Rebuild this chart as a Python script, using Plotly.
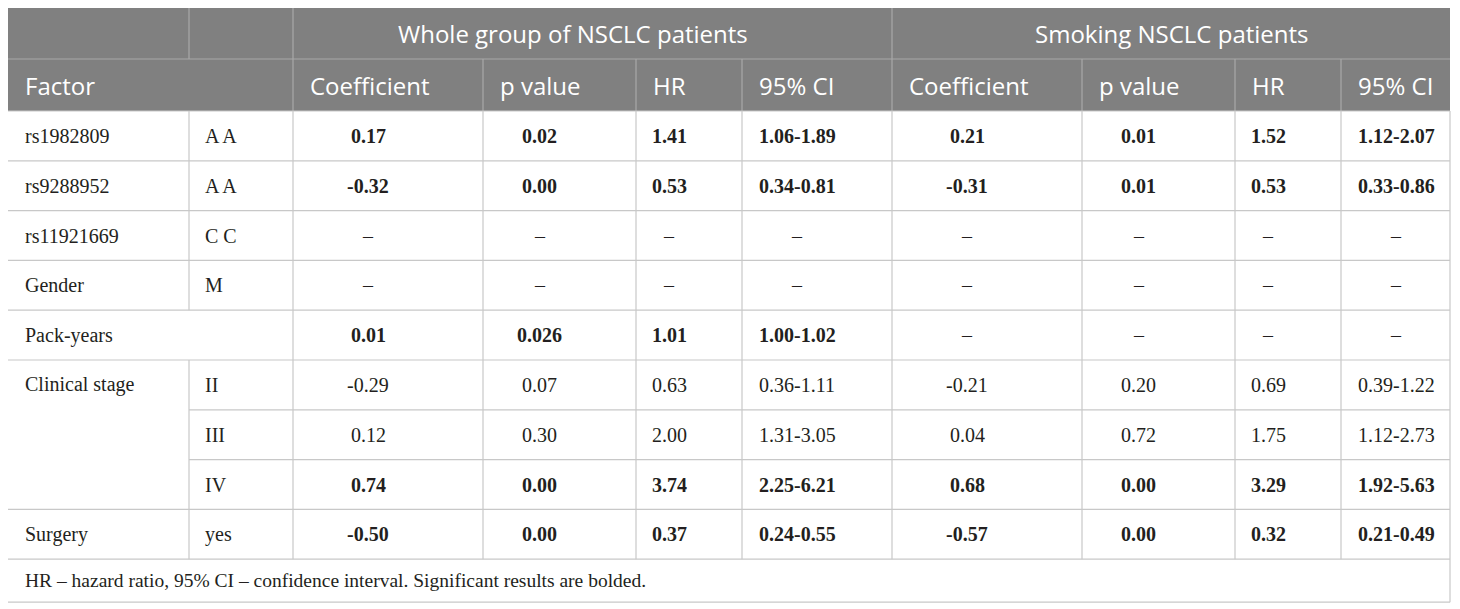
import plotly.graph_objects as go

# ---------------- data ----------------
group_headers = ["Whole group of NSCLC patients", "Smoking NSCLC patients"]
col_headers = ["Coefficient", "p value", "HR", "95% CI",
               "Coefficient", "p value", "HR", "95% CI"]
factors = ["rs1982809", "rs9288952", "rs11921669", "Gender", "Pack-years",
           "Clinical stage", "", "", "Surgery"]
levels = ["A A", "A A", "C C", "M", "", "II", "III", "IV", "yes"]

whole_coef = ["0.17", "-0.32", "–", "–", "0.01", "-0.29", "0.12", "0.74", "-0.50"]
whole_p = ["0.02", "0.00", "–", "–", "0.026", "0.07", "0.30", "0.00", "0.00"]
whole_hr = ["1.41", "0.53", "–", "–", "1.01", "0.63", "2.00", "3.74", "0.37"]
whole_ci = ["1.06-1.89", "0.34-0.81", "–", "–", "1.00-1.02", "0.36-1.11",
            "1.31-3.05", "2.25-6.21", "0.24-0.55"]
whole_bold = [True, True, False, False, True, False, False, True, True]

smoke_coef = ["0.21", "-0.31", "–", "–", "–", "-0.21", "0.04", "0.68", "-0.57"]
smoke_p = ["0.01", "0.01", "–", "–", "–", "0.20", "0.72", "0.00", "0.00"]
smoke_hr = ["1.52", "0.53", "–", "–", "–", "0.69", "1.75", "3.29", "0.32"]
smoke_ci = ["1.12-2.07", "0.33-0.86", "–", "–", "–", "0.39-1.22",
            "1.12-2.73", "1.92-5.63", "0.21-0.49"]
smoke_bold = [True, True, False, False, False, False, False, True, True]

footnote = "HR – hazard ratio, 95% CI – confidence interval. Significant results are bolded."

# ---------------- layout constants ----------------
W, H = 1460, 609
PAGE_OFF = 8            # browser body margin; coordinates below are window pixels
X0, Y0 = 7, 7
col_widths = [182, 104, 190, 153, 106, 150, 190, 153, 106, 150]
RIGHT = 1450            # visible right edge of the table (cropped)
HDR_H = [52, 52]
ROW_H = 49.8
FOOT_H = 43
PAD_R = 40              # centred text sits in cell minus right padding

HDR_BG = "#808080"
HDR_LINE = "#a8a8a8"
BODY_LINE = "#c8c8c8"
TXT = "#231f20"
SANS = "Open Sans"
SERIF = "Liberation Serif"

xs = [X0]
for w in col_widths:
    xs.append(xs[-1] + w)
yh1 = Y0 + HDR_H[0]
yh2 = yh1 + HDR_H[1]
n = len(factors)
rows_y = [yh2 + i * ROW_H for i in range(n + 1)]
yfoot = rows_y[-1] + FOOT_H

shapes = []
annots = []


def line(x0, y0, x1, y1, color, width=1.2):
    shapes.append(dict(type="line", x0=x0, y0=y0, x1=x1, y1=y1, xref="x", yref="y",
                       line=dict(color=color, width=width), layer="above"))


def text(x, y, s, font, size, color, anchor="center", bold=False):
    annots.append(dict(x=x, y=y, xref="x", yref="y", text=f"<b>{s}</b>" if bold else s,
                       showarrow=False, xanchor=anchor, yanchor="middle",
                       font=dict(family=font, size=size, color=color)))


# header background
shapes.append(dict(type="rect", x0=X0, y0=Y0, x1=RIGHT, y1=yh2, xref="x", yref="y",
                   fillcolor=HDR_BG, line=dict(width=0), layer="below"))
# header grid
line(X0, yh1, RIGHT, yh1, HDR_LINE)
line(xs[1], Y0, xs[1], yh1, HDR_LINE)
line(xs[2], Y0, xs[2], yh2, HDR_LINE)
line(xs[6], Y0, xs[6], yh2, HDR_LINE)
for k in [3, 4, 5, 7, 8, 9]:
    line(xs[k], yh1, xs[k], yh2, HDR_LINE)

# header texts
groups = [(xs[2], xs[6]), (xs[6], xs[10])]
for (a, b), g in zip(groups, group_headers):
    text((a + b - PAD_R) / 2, (Y0 + yh1) / 2, g, SANS, 24, "white")
text(xs[0] + 16, (yh1 + yh2) / 2, "Factor", SANS, 24, "white", anchor="left")
for k, h in enumerate(col_headers):
    text(xs[k + 2] + 15, (yh1 + yh2) / 2, h, SANS, 24, "white", anchor="left")

# body grid: horizontal lines
for i in range(n + 1):
    y = rows_y[i]
    if i in (6, 7):          # inside the merged "Clinical stage" cell
        line(xs[1], y, RIGHT, y, BODY_LINE)
    else:
        line(X0, y, RIGHT, y, BODY_LINE)
line(X0, yfoot, RIGHT, yfoot, BODY_LINE)

# body grid: vertical lines
line(X0, yh2, X0, yfoot, BODY_LINE)
line(RIGHT, yh2, RIGHT, yfoot, BODY_LINE)
line(xs[1], rows_y[0], xs[1], rows_y[4], BODY_LINE)
line(xs[1], rows_y[5], xs[1], rows_y[n], BODY_LINE)
for k in range(2, 10):
    line(xs[k], rows_y[0], xs[k], rows_y[n], BODY_LINE)

# body texts
value_cols = [(whole_coef, whole_bold), (whole_p, whole_bold), (whole_hr, whole_bold),
              (whole_ci, whole_bold), (smoke_coef, smoke_bold), (smoke_p, smoke_bold),
              (smoke_hr, smoke_bold), (smoke_ci, smoke_bold)]
for i in range(n):
    yc = (rows_y[i] + rows_y[i + 1]) / 2
    if factors[i]:
        text(xs[0] + 16, yc, factors[i], SERIF, 20, TXT, anchor="left")
    if levels[i]:
        text(xs[1] + 14, yc, levels[i], SERIF, 20, TXT, anchor="left")
    for k, (vals, bold) in enumerate(value_cols):
        cx = (xs[k + 2] + xs[k + 3] - PAD_R) / 2
        v = vals[i]
        text(cx, yc, v, SERIF, 20, TXT, bold=bold[i] and v != "–")

# footnote
text(xs[0] + 16, (rows_y[-1] + yfoot) / 2, footnote, SERIF, 19.5, TXT, anchor="left")

fig = go.Figure()
fig.update_layout(
    width=W, height=H,
    margin=dict(l=0, r=0, t=0, b=0),
    paper_bgcolor="white", plot_bgcolor="white",
    xaxis=dict(range=[PAGE_OFF, W + PAGE_OFF], visible=False, fixedrange=True),
    yaxis=dict(range=[H + PAGE_OFF, PAGE_OFF], visible=False, fixedrange=True),
    shapes=shapes, annotations=annots, showlegend=False,
)
fig.write_html("out.html", config={"displayModeBar": False})
